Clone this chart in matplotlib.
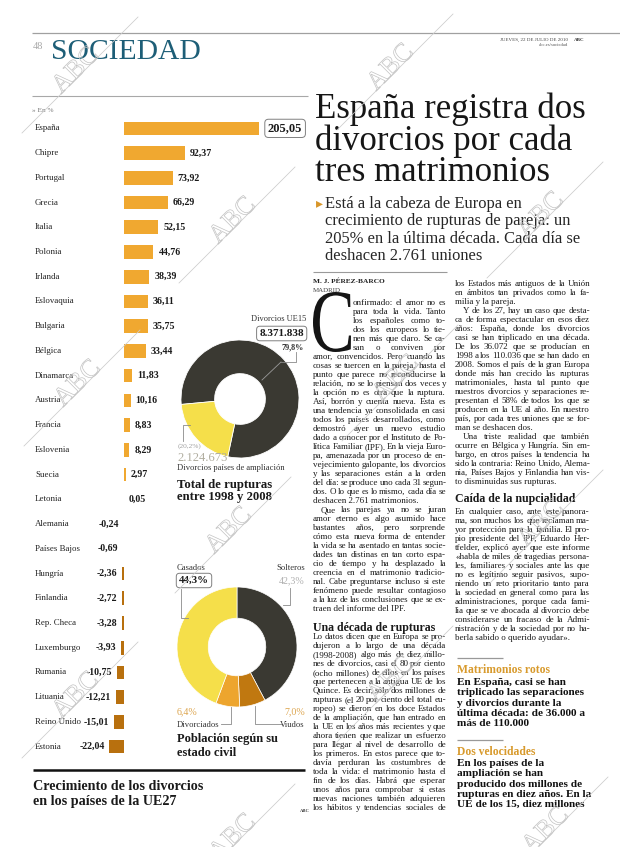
import matplotlib
matplotlib.use("Agg")
import matplotlib.pyplot as plt
import matplotlib.patheffects as pe
from matplotlib.patches import PathPatch
from matplotlib.textpath import TextPath
from matplotlib.font_manager import FontProperties
from matplotlib.transforms import Affine2D

W, H = 620, 847
SERIF = "Liberation Serif"

# --- data ---
countries = ["España", "Chipre", "Portugal", "Grecia", "Italia", "Polonia", "Irlanda",
             "Eslovaquia", "Bulgaria", "Bélgica", "Dinamarca", "Austria", "Francia",
             "Eslovenia", "Suecia", "Letonia", "Alemania", "Países Bajos", "Hungría",
             "Finlandia", "Rep. Checa", "Luxemburgo", "Rumania", "Lituania",
             "Reino Unido", "Estonia"]
growth = [205.05, 92.37, 73.92, 66.29, 52.15, 44.76, 38.39, 36.11, 35.75, 33.44,
          11.83, 10.16, 8.83, 8.29, 2.97, 0.05, -0.24, -0.69, -2.36, -2.72, -3.28,
          -3.93, -10.75, -12.21, -15.01, -22.04]

rupt_labels = ["Divorcios UE15", "Divorcios países de ampliación"]
rupt_values = [8371838, 2124673]
rupt_pct = [79.8, 20.2]

civil_labels = ["Solteros", "Viudos", "Divorciados", "Casados"]
civil_pct = [42.3, 7.0, 6.4, 44.3]

headline = ["España registra dos", "divorcios por cada", "tres matrimonios"]
subtitle = ["Está a la cabeza de Europa en", "crecimiento de rupturas de pareja: un",
            "205% en la última década. Cada día se", "deshacen 2.761 uniones"]

# "\t" = indented first line, "¶" = paragraph end (not justified)
drop_lines = ["onfirmado: el amor no es", "para toda la vida. Tanto", "los españoles como to-",
              "dos los europeos lo tie-", "nen más que claro. Se ca-", "san o conviven por"]
col1a = [
    "amor, convencidos. Pero cuando las", "cosas se tuercen en la pareja, hasta el",
    "punto que parece no reconducirse la", "relación, no se lo piensan dos veces y",
    "la opción no es otra que la ruptura.", "Así, borrón y cuenta nueva. Esta es",
    "una tendencia ya consolidada en casi", "todos los países desarrollados, como",
    "demostró ayer un nuevo estudio", "dado a conocer por el Instituto de Po-",
    "lítica Familiar (IPF). En la vieja Euro-", "pa, amenazada por un proceso de en-",
    "vejecimiento galopante, los divorcios", "y las separaciones están a la orden",
    "del día: se produce uno cada 31 segun-", "dos. O lo que es lo mismo, cada día se",
    "deshacen 2.761 matrimonios.¶", "\tQue las parejas ya no se juran",
    "amor eterno es algo asumido hace", "bastantes años, pero sorprende",
    "cómo esta nueva forma de entender", "la vida se ha asentado en tantas socie-",
    "dades tan distinas en tan corto espa-", "cio de tiempo y ha desplazado la",
    "creencia en el matrimonio tradicio-", "nal. Cabe preguntarse incluso si este",
    "fenómeno puede resultar contagioso", "a la luz de las conclusiones que se ex-",
    "traen del informe del IPF.¶"]
col1b = [
    "Lo datos dicen que en Europa se pro-", "dujeron a lo largo de una década",
    "(1998-2008) algo más de diez millo-", "nes de divorcios, casi el 80 por ciento",
    "(ocho millones) de ellos en los países", "que pertenecen a la antigua UE de los",
    "Quince. Es decir, sólo dos millones de", "rupturas (el 20 por ciento del total eu-",
    "ropeo) se dieron en los doce Estados", "de la ampliación, que han entrado en",
    "la UE en los años más recientes y que", "ahora tienen que realizar un esfuerzo",
    "para llegar al nivel de desarrollo de", "los primeros. En estos parece que to-",
    "davía perduran las costumbres de", "toda la vida: el matrimonio hasta el",
    "fin de los días. Habrá que esperar", "unos años para comprobar si estas",
    "nuevas naciones también adquieren", "los hábitos y tendencias sociales de"]
col2a = [
    "los Estados más antiguos de la Unión", "en ámbitos tan privados como la fa-",
    "milia y la pareja.¶", "\tY de los 27, hay un caso que desta-",
    "ca de forma espectacular en esos diez", "años: España, donde los divorcios",
    "casi se han triplicado en una década.", "De los 36.072 que se producían en",
    "1998 a los 110.036 que se han dado en", "2008. Somos el país de la gran Europa",
    "donde más han crecido las rupturas", "matrimoniales, hasta tal punto que",
    "nuestros divorcios y separaciones re-", "presentan el 58% de todos los que se",
    "producen en la UE al año. En nuestro", "país, por cada tres uniones que se for-",
    "man se deshacen dos.¶", "\tUna triste realidad que también",
    "ocurre en Bélgica y Hungría. Sin em-", "bargo, en otros países la tendencia ha",
    "sido la contraria: Reino Unido, Alema-", "nia, Países Bajos y Finlandia han vis-",
    "to disminuidas sus rupturas.¶"]
col2b = [
    "En cualquier caso, ante este panora-", "ma, son muchos los que reclaman ma-",
    "yor protección para la familia. El pro-", "pio presidente del IPF, Eduardo Her-",
    "tfelder, explicó ayer que este informe", "«habla de miles de tragedias persona-",
    "les, familiares y sociales ante las que", "no es legítimo seguir pasivos, supo-",
    "niendo un reto prioritario tanto para", "la sociedad en general como para las",
    "administraciones, porque cada fami-", "lia que se ve abocada al divorcio debe",
    "considerarse un fracaso de la Admi-", "nistración y de la sociedad por no ha-",
    "berla sabido o querido ayudar».¶"]

box1_title = "Matrimonios rotos"
box1_lines = ["En España, casi se han", "triplicado las separaciones", "y divorcios durante la",
              "última década: de 36.000 a", "más de 110.000"]
box2_title = "Dos velocidades"
box2_lines = ["En los países de la", "ampliación se han", "producido dos millones de",
              "rupturas en diez años. En la", "UE de los 15, diez millones"]

POS = "#f0a830"
NEG = "#b8700e"
DARK = "#3a3932"
YELLOW = "#f5df4a"
DIVOR = "#eda52e"
VIUDO = "#c07810"
TEAL = "#1d5e77"
GREY = "#8a8a8a"


def num(v, d=2):
    return f"{v:.{d}f}".replace(".", ",")


fig = plt.figure(figsize=(W / 100, H / 100), dpi=100)
fig.patch.set_facecolor("white")
renderer = fig.canvas.get_renderer()

# page overlay in pixel coordinates (y downwards), drawn above the chart axes
ax0 = fig.add_axes([0, 0, 1, 1], zorder=2)
ax0.set_xlim(0, W)
ax0.set_ylim(H, 0)
ax0.axis("off")


def txt(x, y, s, size, **kw):
    kw.setdefault("family", SERIF)
    kw.setdefault("color", "#1a1a1a")
    kw.setdefault("va", "baseline")
    return ax0.text(x, y, s, fontsize=size, **kw)


def rule(x0, x1, y, lw=0.8, color="#9a9a9a"):
    ax0.plot([x0, x1], [y, y], color=color, lw=lw, solid_capstyle="butt")


def body(lines, x0, x1, y0, step=9.0, size=6.5, **kw):
    for i, line in enumerate(lines):
        y = y0 + i * step
        xs = x0
        if line.startswith("\t"):
            xs += 8
            line = line[1:]
        last = line.endswith("¶")
        line = line.rstrip("¶")
        words = line.split()
        if last or len(words) < 2:
            txt(xs, y, line, size, **kw)
            continue
        arts = [txt(0, y, w, size, **kw) for w in words]
        widths = [a.get_window_extent(renderer).width for a in arts]
        gap = max((x1 - xs - sum(widths)) / (len(words) - 1), 1.2)
        x = xs
        for a, w in zip(arts, widths):
            a.set_x(x)
            x += w + gap


# header
rule(32, W, 33, lw=0.9, color="#a0a0a0")
txt(33, 49, "48", 7.5, color="#a8a8a8")
txt(51, 59, "SOCIEDAD", 21.3, color=TEAL)
txt(568, 41, "JUEVES, 22 DE JULIO DE 2010", 3.6, ha="right", color="#444")
txt(574, 41, "ABC", 3.6, weight="bold", color="#333")
txt(568, 46, "abc.es/sociedad", 3.4, ha="right", color="#555")
rule(32, 308, 96, lw=0.8, color="#a8a8a8")
txt(32, 112, "» En %", 5.2, color="#777")

# headline and subtitle
for i, s in enumerate(headline):
    txt(315, 118 + i * 31.5, s, 25, color="#161616")
ax0.text(316, 207, "\u25b8", fontsize=10, family="DejaVu Sans", color="#d8962a", va="baseline")
for i, s in enumerate(subtitle):
    txt(325, 208 + i * 17.3, s, 11.9, color="#262626")
rule(313, 447, 272, lw=0.8)

# byline and drop cap
txt(313, 283, "M. J. PÉREZ-BARCO", 5.3, weight="bold", color="#222")
txt(313, 292, "MADRID", 5.0, color="#444")
tp = TextPath((0, 0), "C", size=100, prop=FontProperties(family=SERIF))
ext = tp.get_extents()
tr = (Affine2D().translate(-ext.x0, -ext.y0)
      .scale(38 / ext.width, -60 / ext.height).translate(313, 352))
ax0.add_patch(PathPatch(tr.transform_path(tp), fc="#151515", ec="none"))

# text columns
body(drop_lines, 353, 446, 305)
body(col1a, 313, 446, 359)
txt(313, 631, "Una década de rupturas", 8.6, weight="bold")
body(col1b, 313, 446, 639)
body(col2a, 455, 590, 286)
txt(455, 502, "Caída de la nupcialidad", 8.6, weight="bold")
body(col2b, 455, 590, 514)

# sidebars
rule(457, 503, 658, lw=0.9, color="#999")
txt(457, 673, box1_title, 8.4, weight="bold", color="#d89a2c")
for i, s in enumerate(box1_lines):
    txt(457, 685 + i * 10.3, s, 8.1, weight="bold", color="#111")
rule(457, 503, 740, lw=0.9, color="#999")
txt(457, 755, box2_title, 8.4, weight="bold", color="#d89a2c")
for i, s in enumerate(box2_lines):
    txt(457, 766 + i * 10.3, s, 8.1, weight="bold", color="#111")

# --- bar chart: growth of divorces in EU27 ---
k = 0.658  # px per percentage point
zero_px = 124
ax_b = fig.add_axes([33 / W, 1 - 759 / H, (310 - 33) / W, (759 - 116) / H])
ax_b.set_xlim(-(zero_px - 33) / k, (310 - zero_px) / k)
ax_b.set_ylim(len(countries) - 0.5, -0.5)
ax_b.axis("off")
rows = list(range(len(countries)))
ax_b.barh(rows, growth, height=0.55, color=[POS if v >= 0 else NEG for v in growth])
off = 5 / k
for i, (c, v) in enumerate(zip(countries, growth)):
    ax_b.text(0.007, i, c, transform=ax_b.get_yaxis_transform(), family=SERIF,
              fontsize=6.4, color="#222", va="center")
    if i == 0:
        ax_b.text(v + 9 / k, i, num(v), family=SERIF, weight="bold", fontsize=9,
                  color="#1a1a1a", va="center", ha="left",
                  bbox=dict(boxstyle="round,pad=0.25,rounding_size=0.3", fc="white",
                            ec="#808080", lw=0.7))
    elif v >= 0:
        ax_b.text(v + off, i, num(v), family=SERIF, weight="bold", fontsize=7.1,
                  color="#1a1a1a", va="center", ha="left")
    else:
        ax_b.text(v - off, i, num(v), family=SERIF, weight="bold", fontsize=7.1,
                  color="#1a1a1a", va="center", ha="right")

rule(33, 305, 770, lw=1.8, color="#111")
txt(33, 790, "Crecimiento de los divorcios", 10.2, weight="bold")
txt(33, 805, "en los países de la UE27", 10.2, weight="bold")
txt(300, 812, "ABC", 3.3, weight="bold", color="#444")

# --- donut 1: total ruptures 1998-2008 ---
cx1, cy1, r1 = 240, 399, 59
ax_d1 = fig.add_axes([(cx1 - r1) / W, 1 - (cy1 + r1) / H, 2 * r1 / W, 2 * r1 / H])
ax_d1.pie(rupt_pct, colors=[DARK, YELLOW], startangle=-102, counterclock=True,
          wedgeprops=dict(width=0.57, edgecolor="white", linewidth=0.6))
ax_d1.set_xlim(-1, 1)
ax_d1.set_ylim(-1, 1)
ax_d1.set_axis_off()

txt(306, 321, rupt_labels[0], 6.0, ha="right", color="#333")
txt(304, 336, f"{rupt_values[0]:,}".replace(",", "."), 8.0, ha="right", weight="bold",
    bbox=dict(boxstyle="round,pad=0.25,rounding_size=0.3", fc="white", ec="#808080", lw=0.7))
txt(304, 349, num(rupt_pct[0], 1) + "%", 5.8, ha="right", weight="bold", color="#333")
ax0.plot([296, 296, 281], [352, 362, 362], color=GREY, lw=0.6)
ax0.plot([281, 262], [362, 380], color="#9a9a9a", lw=0.6)
ax0.plot([190, 183, 183], [425, 425, 441], color=GREY, lw=0.6)
txt(178, 448, "(" + num(rupt_pct[1], 1) + "%)", 5.3, color="#a0a0a0")
txt(177, 461, f"{rupt_values[1]:,}".replace(",", "."), 9.0, color="#b0ad9f")
txt(177, 470, rupt_labels[1], 6.1, color="#333")
txt(177, 488, "Total de rupturas", 9.2, weight="bold")
txt(177, 500, "entre 1998 y 2008", 9.2, weight="bold")

# --- donut 2: population by marital status ---
cx2, cy2, r2 = 237, 647, 60
ax_d2 = fig.add_axes([(cx2 - r2) / W, 1 - (cy2 + r2) / H, 2 * r2 / W, 2 * r2 / H])
ax_d2.pie(civil_pct, colors=[DARK, VIUDO, DIVOR, YELLOW], startangle=90,
          counterclock=False, wedgeprops=dict(width=0.52, edgecolor="white", linewidth=0.5))
ax_d2.set_xlim(-1, 1)
ax_d2.set_ylim(-1, 1)
ax_d2.set_axis_off()

txt(177, 570, civil_labels[3], 6.2, color="#333")
txt(179, 583, num(civil_pct[3], 1) + "%", 7.8, weight="bold",
    bbox=dict(boxstyle="round,pad=0.25,rounding_size=0.3", fc="white", ec="#808080", lw=0.7))
ax0.plot([181, 181, 188], [589, 618, 618], color=GREY, lw=0.6)
txt(305, 570, civil_labels[0], 6.2, ha="right", color="#333")
txt(305, 583, num(civil_pct[0], 1) + "%", 7.2, ha="right", color="#b0b0b0")
ax0.plot([290, 290, 283], [588, 605, 605], color=GREY, lw=0.6)
txt(177, 714, num(civil_pct[2], 1) + "%", 7.2, color="#dda650")
txt(177, 727, civil_labels[2], 6.2, color="#333")
ax0.plot([221, 231, 231], [724, 724, 707], color=GREY, lw=0.6)
txt(305, 714, num(civil_pct[1], 1) + "%", 7.2, ha="right", color="#dda650")
txt(305, 727, civil_labels[1], 6.2, ha="right", color="#333")
ax0.plot([255, 255, 282], [706, 724, 724], color=GREY, lw=0.6)
txt(177, 742, "Población según su", 9.0, weight="bold")
txt(177, 756, "estado civil", 9.0, weight="bold")

# --- ABC watermarks ---
ax_w = fig.add_axes([0, 0, 1, 1], zorder=10)
ax_w.set_xlim(0, W)
ax_w.set_ylim(H, 0)
ax_w.axis("off")
marks = [(80, 75), (395, 72), (237, 225), (545, 220), (82, 388), (400, 383),
         (233, 535), (545, 528), (80, 700), (395, 684), (237, 842), (550, 835)]
for mx, my in marks:
    ax_w.plot([mx - 58, mx + 58], [my + 58, my - 58], color="#cccccc", lw=0.55)
    ax_w.text(mx - 4, my - 4, "ABC", rotation=45, ha="center", va="center", fontsize=19,
              family=SERIF, color=(1, 1, 1, 0),
              path_effects=[pe.withStroke(linewidth=0.5, foreground="#c2c2c2")])

fig.savefig("out.png", dpi=100)
